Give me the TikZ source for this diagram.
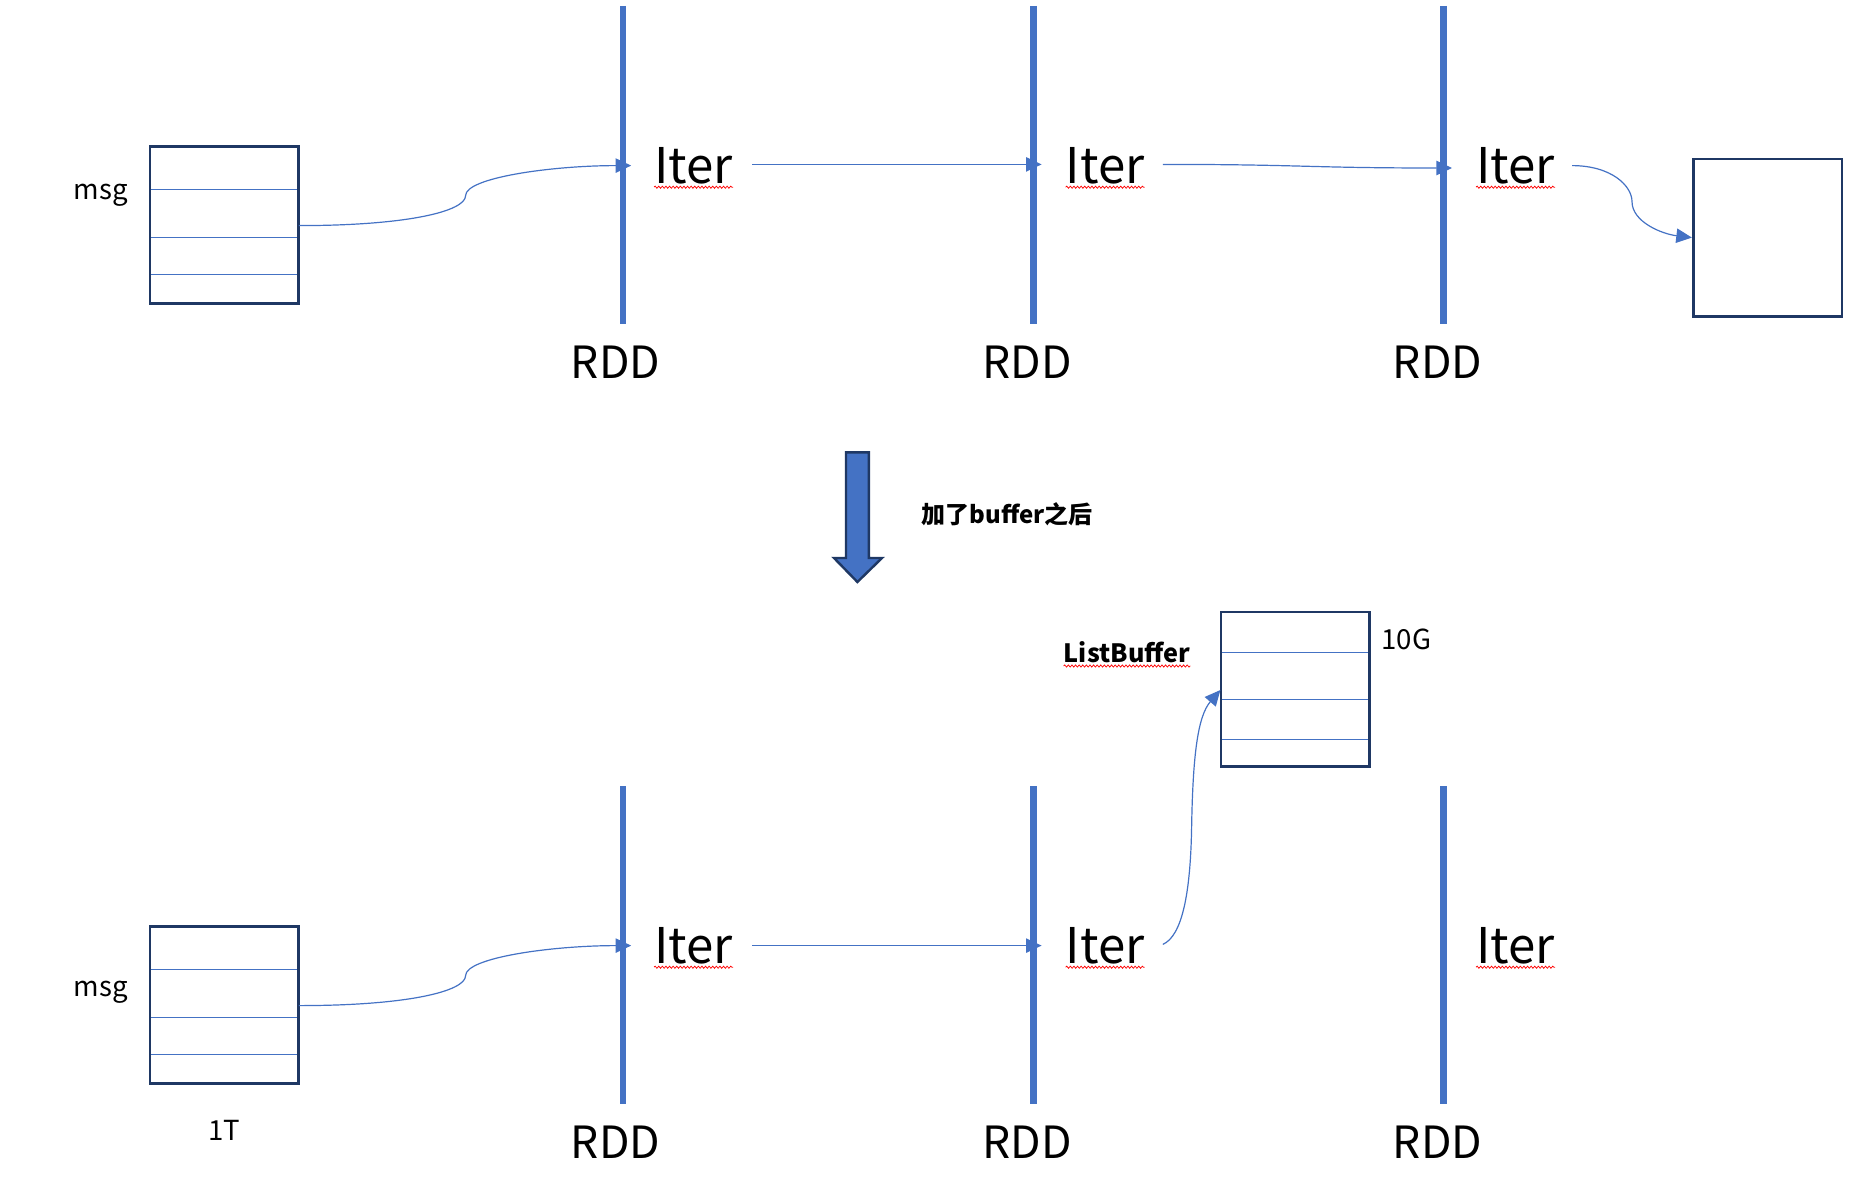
\documentclass[tikz,border=0pt]{standalone}
\usepackage{fontspec}
\setmainfont{Noto Sans CJK SC}
\usetikzlibrary{arrows.meta,decorations.pathmorphing}
\definecolor{accent}{HTML}{4472C4}
\definecolor{navy}{HTML}{1F3864}
\tikzset{
  rddline/.style={draw=accent, line width=5.5pt},
  rec/.style={draw=navy, line width=2.2pt, minimum width=124pt, minimum height=131pt, inner sep=0pt},
  sepline/.style={draw=accent, line width=1pt},
  link/.style={draw=accent, line width=1pt, -{Triangle[length=13pt,width=12pt]}},
  itertxt/.style={font=\fontsize{41}{41}\selectfont, inner sep=0pt, anchor=base west},
  rddtxt/.style={font=\fontsize{37}{37}\selectfont, inner sep=0pt, anchor=base},
  smalltxt/.style={font=\fontsize{23}{23}\selectfont, inner sep=0pt, anchor=base},
  wavy/.style={draw=red, line width=0.6pt, decorate, decoration={snake, amplitude=0.9pt, segment length=3pt}},
  blockarrow/.style={fill=accent, draw=navy, line width=2pt, line join=miter}
}
\begin{document}
\begin{tikzpicture}[x=1pt,y=-1pt]
\useasboundingbox (0,0) rectangle (1560,982);

% ---------- top row ----------
\draw[sepline] (125,158) -- (249,158);
\draw[sepline] (125,198) -- (249,198);
\draw[sepline] (125,229) -- (249,229);
\node[rec] (m1) at (187,187.5) {};
\node[smalltxt] (msg1) at (84,166) {msg};

\draw[rddline] (519,5) -- (519,270);
\draw[rddline] (861,5) -- (861,270);
\draw[rddline] (1203,5) -- (1203,270);
\node[rddtxt] (rdd1) at (513,315) {RDD};
\node[rddtxt] (rdd2) at (856,315) {RDD};
\node[rddtxt] (rdd3) at (1198,315) {RDD};

\node[itertxt] (it1) at (545,153) {Iter};
\node[itertxt] (it2) at (888,153) {Iter};
\node[itertxt] (it3) at (1230,153) {Iter};
\foreach \n in {it1,it2,it3}{\draw[wavy] ([yshift=-3pt]\n.base west) -- ([yshift=-3pt]\n.base east);}

\node[rec] (out1) at (1473,198) {};

\coordinate (a1s) at (249,188);
\coordinate (a1e) at (526,138);
\coordinate (a2s) at (627,137);
\coordinate (a2e) at (868,137);
\coordinate (a3s) at (969,137);
\coordinate (a3e) at (1210,140);
\coordinate (a4s) at (1310,138);
\coordinate (a4e) at (out1.west);

\draw[link] (a1s) .. controls (340,188) and (388,176) .. (388,163) .. controls (388,148) and (460,138) .. (a1e);
\draw[link] (a2s) -- (a2e);
\draw[link] (a3s) .. controls (1085,137) and (1090,140) .. (a3e);
\draw[link] (a4s) .. controls (1343,138) and (1360,155) .. (1360,168) .. controls (1360,185) and (1385,195) .. (a4e);

% ---------- block arrow ----------
\path[blockarrow] (705,377) -- (724,377) -- (724,465) -- (735,465) -- (714.5,485) -- (695,465) -- (705,465) -- cycle;
\node[font=\fontsize{20}{20}\selectfont\bfseries, inner sep=0pt, anchor=base west] (note) at (768,436) {加了buffer之后};

% ---------- bottom row ----------
\draw[sepline] (125,808) -- (249,808);
\draw[sepline] (125,848) -- (249,848);
\draw[sepline] (125,879) -- (249,879);
\node[rec] (m2) at (187,837.5) {};
\node[smalltxt] (msg2) at (84,830) {msg};
\node[smalltxt] (size1) at (187,950) {1T};

\draw[rddline] (519,655) -- (519,920);
\draw[rddline] (861,655) -- (861,920);
\draw[rddline] (1203,655) -- (1203,920);
\node[rddtxt] (rdd4) at (513,965) {RDD};
\node[rddtxt] (rdd5) at (856,965) {RDD};
\node[rddtxt] (rdd6) at (1198,965) {RDD};

\node[itertxt] (it4) at (545,803) {Iter};
\node[itertxt] (it5) at (888,803) {Iter};
\node[itertxt] (it6) at (1230,803) {Iter};
\foreach \n in {it4,it5,it6}{\draw[wavy] ([yshift=-3pt]\n.base west) -- ([yshift=-3pt]\n.base east);}

% ListBuffer
\draw[sepline] (1018,544) -- (1141,544);
\draw[sepline] (1018,583) -- (1141,583);
\draw[sepline] (1018,616) -- (1141,616);
\node[rec, minimum height=129pt] (lb) at (1079.5,574.5) {};
\node[font=\fontsize{21}{21}\selectfont\bfseries, inner sep=0pt, anchor=base east] (lbl) at (992,552) {ListBuffer};
\draw[wavy] ([yshift=-3pt]lbl.base west) -- ([yshift=-3pt]lbl.base east);
\node[smalltxt, anchor=base west] (size2) at (1151,541) {10G};

\coordinate (b1s) at (249,838);
\coordinate (b1e) at (526,788);
\coordinate (b2s) at (627,788);
\coordinate (b2e) at (868,788);
\coordinate (b3s) at (969,787);
\coordinate (b3e) at (1017,575);

\draw[link] (b1s) .. controls (340,838) and (388,826) .. (388,813) .. controls (388,798) and (460,788) .. (b1e);
\draw[link] (b2s) -- (b2e);
\draw[link] (b3s) .. controls (985,780) and (992,745) .. (993,690) .. controls (994,630) and (998,597) .. (b3e);
\end{tikzpicture}
\end{document}
